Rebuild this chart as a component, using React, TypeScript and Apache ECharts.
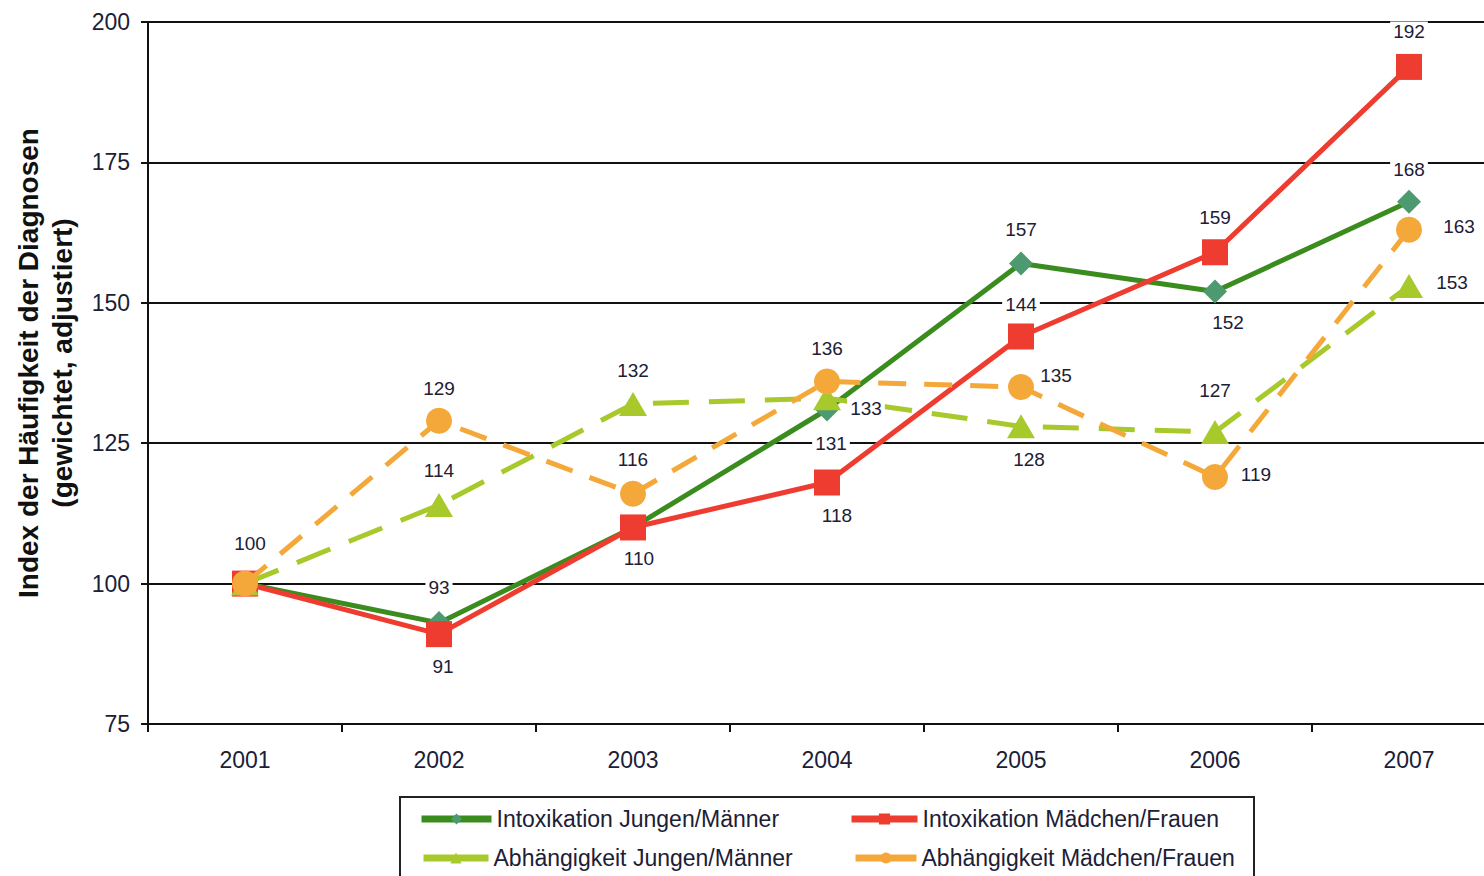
import React, { useEffect, useRef } from "react";
import * as echarts from "echarts";

const years = ["2001", "2002", "2003", "2004", "2005", "2006", "2007"];
const intoxJungen = [100, 93, 110, 131, 157, 152, 168];
const intoxMaedchen = [100, 91, 110, 118, 144, 159, 192];
const abhJungen = [100, 114, 132, 133, 128, 127, 153];
const abhMaedchen = [100, 129, 116, 136, 135, 119, 163];
const seriesNames = [
  "Intoxikation Jungen/Männer",
  "Intoxikation Mädchen/Frauen",
  "Abhängigkeit Jungen/Männer",
  "Abhängigkeit Mädchen/Frauen",
];
const yMin = 75;
const yMax = 200;
const yStep = 25;
const yTitle1 = "Index der Häufigkeit der Diagnosen";
const yTitle2 = "(gewichtet, adjustiert)";

// label offsets (style only): [dx, dy] relative to point, null = no label
const offIntoxJ = [[5, -40], [0, -35], null, [4, 34], [0, -34], [13, 31], [0, -32]];
const offIntoxM = [null, [4, 32], [6, 31], [10, 33], [0, -32], [0, -35], [0, -35]];
const offAbhJ = [null, [0, -34], [0, -33], [39, 10], [8, 33], [0, -41], [43, -3]];
const offAbhM = [null, [0, -32], [0, -34], [0, -33], [35, -12], [41, -2], [50, -3]];

const FONT = "'Liberation Sans', Arial, sans-serif";
const TEXT = "#1c2036";

function buildData(values: number[], offs: (number[] | null)[]) {
  return values.map((v, i) => {
    const o = offs[i];
    if (!o) return { value: v, label: { show: false } };
    return {
      value: v,
      label: {
        show: true,
        position: "inside",
        offset: o,
        formatter: String(v),
      },
    };
  });
}

const labelBase = {
  color: TEXT,
  fontFamily: FONT,
  fontSize: 19,
  backgroundColor: "#ffffff",
  padding: [1, 3],
};

export default function App() {
  const ref = useRef<HTMLDivElement>(null);
  useEffect(() => {
    if (!ref.current) return;
    const chart = echarts.init(ref.current, null, { renderer: "svg" });
    const mkLegend = (name: string, left: number, top: number, w: number) => ({
      data: [name],
      left,
      top,
      itemWidth: w,
      itemHeight: 14,
      itemGap: 0,
      padding: 0,
      selectedMode: false,
      lineStyle: { width: 7, type: "solid" },
      textStyle: { color: TEXT, fontFamily: FONT, fontSize: 23, lineHeight: 24 },
    });
    chart.setOption({
      animation: false,
      backgroundColor: "#ffffff",
      grid: { left: 148, top: 22, right: 0, bottom: 152, containLabel: false },
      legend: [
        mkLegend(seriesNames[0], 418, 807, 70),
        mkLegend(seriesNames[1], 848, 807, 66),
        mkLegend(seriesNames[2], 420, 846, 65),
        mkLegend(seriesNames[3], 852, 846, 61),
      ],
      xAxis: {
        type: "category",
        data: years,
        boundaryGap: true,
        axisLine: { show: true, lineStyle: { color: "#111", width: 2 } },
        axisTick: { show: true, length: 8, lineStyle: { color: "#111", width: 2 } },
        axisLabel: { color: TEXT, fontFamily: FONT, fontSize: 23, margin: 24 },
        splitLine: { show: false },
      },
      yAxis: {
        type: "value",
        min: yMin,
        max: yMax,
        interval: yStep,
        axisLine: { show: true, lineStyle: { color: "#111", width: 2 } },
        axisTick: { show: true, length: 7, lineStyle: { color: "#111", width: 2 } },
        axisLabel: { color: TEXT, fontFamily: FONT, fontSize: 23, margin: 18 },
        splitLine: { show: true, lineStyle: { color: "#111", width: 2 } },
      },
      graphic: [
        {
          type: "text",
          x: 28,
          y: 363,
          rotation: Math.PI / 2,
          style: {
            text: yTitle1,
            fill: "#111",
            font: `bold 28px ${FONT}`,
            textAlign: "center",
            textVerticalAlign: "middle",
          },
        },
        {
          type: "text",
          x: 62,
          y: 363,
          rotation: Math.PI / 2,
          style: {
            text: yTitle2,
            fill: "#111",
            font: `bold 28px ${FONT}`,
            textAlign: "center",
            textVerticalAlign: "middle",
          },
        },
        {
          type: "rect",
          shape: { x: 400, y: 797, width: 854, height: 110 },
          style: { fill: "none", stroke: "#222", lineWidth: 2 },
          silent: true,
        },
      ],
      series: [
        {
          name: seriesNames[0],
          type: "line",
          data: buildData(intoxJungen, offIntoxJ),
          symbol: "diamond",
          symbolSize: 24,
          lineStyle: { color: "#3a8c1e", width: 5 },
          itemStyle: { color: "#4e9a70", borderWidth: 0 },
          label: labelBase,
          emphasis: { disabled: true },
          z: 2,
        },
        {
          name: seriesNames[1],
          type: "line",
          data: buildData(intoxMaedchen, offIntoxM),
          symbol: "rect",
          symbolSize: 26,
          lineStyle: { color: "#ee3d30", width: 5 },
          itemStyle: { color: "#ee3d30", borderWidth: 0 },
          label: labelBase,
          emphasis: { disabled: true },
          z: 3,
        },
        {
          name: seriesNames[2],
          type: "line",
          data: buildData(abhJungen, offAbhJ),
          symbol: "triangle",
          symbolSize: [28, 24],
          lineStyle: { color: "#a8c92c", width: 5, type: [36, 20] },
          itemStyle: { color: "#a8c92c", borderWidth: 0 },
          label: labelBase,
          emphasis: { disabled: true },
          z: 4,
        },
        {
          name: seriesNames[3],
          type: "line",
          data: buildData(abhMaedchen, offAbhM),
          symbol: "circle",
          symbolSize: 26,
          lineStyle: { color: "#f5a83a", width: 5, type: [28, 18] },
          itemStyle: { color: "#f5a83a", borderWidth: 0 },
          label: labelBase,
          emphasis: { disabled: true },
          z: 5,
        },
      ],
    });
    return () => chart.dispose();
  }, []);
  return (
    <div
      style={{ position: "absolute", left: 0, top: 0, width: 1484, height: 876, overflow: "hidden", background: "#fff" }}
    >
      <div ref={ref} style={{ width: 1506, height: 876 }} />
    </div>
  );
}
